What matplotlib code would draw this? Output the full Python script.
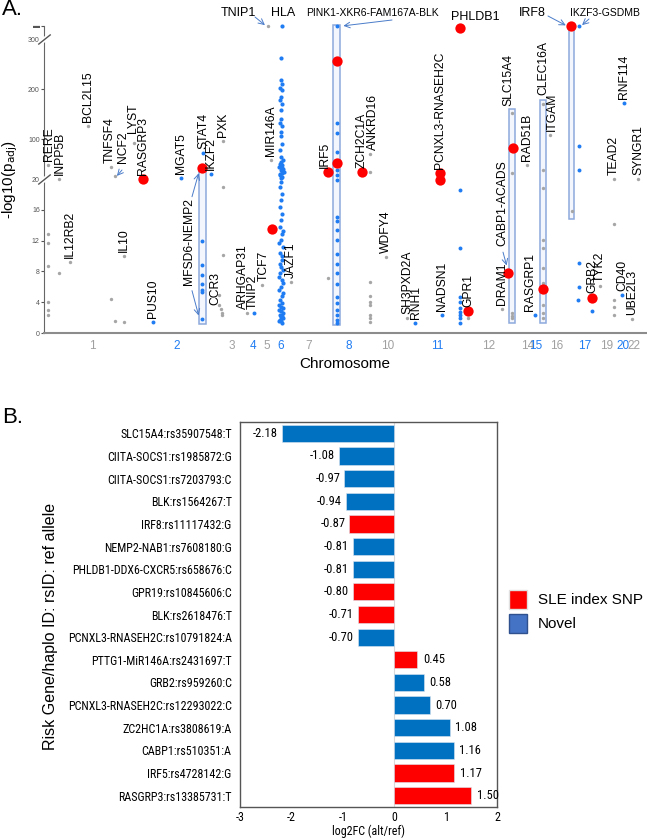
import numpy as np
import matplotlib
matplotlib.use('Agg')
import matplotlib.pyplot as plt
from matplotlib import font_manager, transforms
from matplotlib.font_manager import FontProperties
from matplotlib.textpath import TextToPath
from matplotlib.patches import Rectangle, Patch

plt.rcParams['font.family'] = ['Liberation Sans', 'DejaVu Sans']

GRAY = '#a6a6a6'
BLUE = '#1f7cf2'
RED = '#ff0000'
BOXC = '#8ea9db'

# ---------- panel A data (x = position along genome, y = -log10 padj) ----------
chrom_pos = [92, 177, 232, 253, 267, 281, 309, 349, 388, 437, 489, 528, 536, 557, 585, 607, 623, 634]
chrom_lab = ['1', '2', '3', '4', '5', '6', '7', '8', '10', '11', '12', '14', '15', '16', '17', '19', '20', '22']
chrom_blue = [0, 1, 0, 1, 0, 1, 0, 1, 0, 1, 0, 0, 1, 0, 1, 0, 1, 0]

gray_x = [48, 48, 48, 48, 48, 48, 48, 59, 59, 70, 88, 111, 111, 115, 115, 124, 124, 134,
          223, 223, 223, 219, 219, 222, 222, 221, 247, 262, 268, 271, 291, 328,
          370, 370, 370, 370, 370, 370, 370, 370, 370, 386, 407, 468, 502,
          512, 512, 512, 512, 512, 527,
          543, 543, 543, 543, 543, 543, 543, 543, 543, 543, 550, 572, 600,
          614, 614, 614, 614, 614, 638, 632]
gray_y = [48, 12.9, 11.7, 8.7, 4.0, 3.0, 2.3, 20, 7.8, 9.2, 126, 44, 4.4, 26, 1.6, 10, 1.45, 92,
          96, 19, 10.1, 4.9, 3.6, 2.6, 2.3, 3.1, 2.6, 6.2, 326, 58, 6.6, 7.1,
          70, 34, 6.6, 4.8, 4.0, 3.6, 2.3, 1.9, 1.4, 9.9, 1.9, 1.9, 3.1,
          152, 32, 2.6, 2.2, 1.9, 48,
          170, 38, 18.8, 12.1, 11.0, 8.4, 6.5, 3.6, 2.6, 1.9, 108, 15.8, 6.1,
          20, 14.2, 4.3, 3.4, 2.4, 20.3, 1.8]

blue_x = [153, 181, 203, 211, 202, 202, 202, 202, 202, 202, 202, 254,
          337, 337, 337, 337, 337, 337, 337, 337, 337, 337, 337, 337, 337, 337, 337, 337, 337, 337,
          337, 337, 337,
          415, 442, 460, 460, 460, 460, 460, 460, 460, 460, 460, 535,
          579, 579, 579, 579, 579, 578, 592, 624, 622]
blue_y = [1.4, 22, 72, 30, 11.9, 8.8, 7.5, 6.4, 5.6, 5.3, 1.8, 2.6,
          326, 132, 112, 74, 38, 28, 19.9, 15.1, 14.5, 13.4, 12.1, 10.3, 9.0, 7.8, 6.4, 4.7,
          3.9, 3.0, 2.3, 1.7, 1.3,
          1.3, 2.3, 18.6, 11.0, 4.7, 4.0, 3.2, 2.7, 2.3, 1.9, 1.3, 2.3,
          326, 86, 38, 9.1, 6.0, 4.3, 2.9, 172, 4.9]

# HLA region on chromosome 6
hla_x = [282, 281, 281, 282, 280, 282, 281, 280, 282, 281, 281, 280, 282, 281, 281, 282,
         280, 281, 283, 280, 282, 279, 283, 281, 284, 280, 282, 281, 280, 282, 281, 280,
         282, 281, 280, 282, 281, 283, 280, 282, 281, 280, 282, 281, 283, 280, 282, 281,
         279, 283, 281, 280, 282, 283, 279, 282, 280, 283, 279, 283, 279, 282, 279, 283,
         280, 283, 279, 281, 282, 281, 281, 282, 282, 280, 281]
hla_y = [326, 263, 218, 211, 203, 198, 185, 178, 171, 158, 141, 131, 125, 115, 107, 91,
         78, 65, 58, 51, 48, 45, 41, 38, 35, 31, 25, 19.6, 19.0, 18.1, 17.3, 16.4,
         15.5, 14.7, 13.8, 12.9, 12.1, 11.2, 10.4, 9.5, 8.6, 7.8, 6.9, 6.0, 5.2, 4.3, 3.9, 3.4,
         3.0, 2.6, 2.1, 1.7, 1.3, 13.2, 11.7, 10.0, 9.0, 8.2, 7.3, 6.5, 5.6, 4.8, 3.7, 3.2,
         2.4, 1.9, 1.5, 2.8, 2.2, 1.6, 55, 43, 33, 28, 22]

red_x = [143, 202, 272, 328, 337, 337, 362, 440, 440, 460, 468, 508, 513, 543, 571, 592]
red_y = [20, 42, 13.5, 34, 256, 52, 34, 32, 19.9, 322, 2.9, 7.8, 82, 5.7, 326, 4.6]

# rotated gene labels: text, x, y where the text starts
gene_lab = ['RERE', 'INPP5B', 'IL12RB2', 'BCL2L15', 'TNFSF4', 'NCF2', 'LYST', 'RASGRP3', 'IL10',
            'PUS10', 'MGAT5', 'STAT4', 'IKZF2', 'MFSD6-NEMP2', 'CCR3', 'PXK', 'ARHGAP31', 'TNIP2',
            'TCF7', 'MIR146A', 'JAZF1', 'IRF5', 'ZCH2C1A', 'ANKRD16', 'WDFY4', 'SH3PXD2A', 'RNH1',
            'PCNXL3-RNASEH2C', 'NADSN1', 'GPR1', 'DRAM1', 'CABP1-ACADS', 'SLC15A4', 'RAD51B',
            'RASGRP1', 'CLEC16A', 'ITGAM', 'GRB2', 'TYK2', 'TEAD2', 'RNF114', 'SYNGR1', 'CD40', 'UBE2L3']
gene_x = [49, 60, 70, 88, 110, 123, 133, 143, 124,
          153, 181, 203, 211, 189, 215, 223, 243, 253,
          264, 271, 291, 325, 362, 373, 386, 407, 416,
          440, 442, 468, 502, 502, 508, 527,
          530, 543, 552, 592, 600, 614, 624, 638, 622, 632]
gene_y = [48, 20, 9.2, 126, 44, 44, 104, 20, 10,
          1.4, 22, 72, 30, 5.7, 3.1, 96, 2.6, 2.6,
          6.2, 58, 6.6, 34, 34, 70, 9.9, 1.9, 1.3,
          32, 2.3, 2.9, 3.1, 10.8, 158, 48,
          2.3, 180, 108, 4.6, 6.1, 20, 172, 20.3, 4.9, 1.8]

# boxes around haplotype blocks: x0, x1, y0, y1
box_x0 = [199, 333, 509, 540, 569]
box_x1 = [206, 340, 515, 546, 574]
box_y0 = [1.2, 1.0, 1.3, 1.3, 14.8]
box_y1 = [42, 328, 160, 178, 326]

# ---------- panel B data ----------
snp_lab = ['SLC15A4:rs35907548:T', 'CIITA-SOCS1:rs1985872:G', 'CIITA-SOCS1:rs7203793:C',
           'BLK:rs1564267:T', 'IRF8:rs11117432:G', 'NEMP2-NAB1:rs7608180:G',
           'PHLDB1-DDX6-CXCR5:rs658676:C', 'GPR19:rs10845606:C', 'BLK:rs2618476:T',
           'PCNXL3-RNASEH2C:rs10791824:A', 'PTTG1-MiR146A:rs2431697:T', 'GRB2:rs959260:C',
           'PCNXL3-RNASEH2C:rs12293022:C', 'ZC2HC1A:rs3808619:A', 'CABP1:rs510351:A',
           'IRF5:rs4728142:G', 'RASGRP3:rs13385731:T']
log2fc = [-2.18, -1.08, -0.97, -0.94, -0.87, -0.81, -0.81, -0.80, -0.71, -0.70,
          0.45, 0.58, 0.70, 1.08, 1.16, 1.17, 1.50]
sle_index = [0, 0, 0, 0, 1, 0, 0, 1, 1, 0, 1, 0, 0, 0, 0, 1, 1]


# narrow face for panel B: pick one deterministically, size it to the label width
cands = sorted({(f.name, f.stretch) for f in font_manager.fontManager.ttflist
                if ('Narrow' in f.name or 'Condensed' in f.name
                    or f.stretch in ('condensed', 'semi-condensed'))
                and f.style == 'normal' and f.weight in (400, 'normal', 'regular')})
pref = ['Liberation Sans Narrow', 'Roboto Condensed', 'Open Sans Condensed', 'DejaVu Sans']
NARROW = dict(family='Liberation Sans')
for p in pref:
    hit = [c for c in cands if c[0] == p]
    if hit:
        NARROW = dict(family=hit[0][0], stretch=hit[0][1])
        break
probe = FontProperties(size=10, **NARROW)
w10 = TextToPath().get_text_width_height_descent('PCNXL3-RNASEH2C:rs10791824:A', probe, ismath=False)[0]
NSIZE = 10 * (164 * 72 / 100) / w10
NSIZE = min(max(NSIZE, 6.5), 10)


def fwd(v):
    v = np.asarray(v, dtype=float)
    return np.where(v <= 20, v, 20 + (v - 20) * 0.5 / 7.7)


def inv(u):
    u = np.asarray(u, dtype=float)
    return np.where(u <= 20, u, 20 + (u - 20) * 7.7 / 0.5)


fig = plt.figure(figsize=(6.47, 8.39), dpi=100)
W, H = 647, 839

# ================= panel A =================
ax1 = fig.add_axes([44 / W, 1 - 333 / H, (646 - 44) / W, (333 - 26) / H])
ax1.set_yscale('function', functions=(fwd, inv))
ax1.set_xlim(44, 646)
ax1.set_ylim(0, 326)

for x0, x1, y0, y1 in zip(box_x0, box_x1, box_y0, box_y1):
    ax1.add_patch(Rectangle((x0, y0), x1 - x0, y1 - y0, facecolor='#f3f6fc',
                            edgecolor=BOXC, lw=1.1, zorder=1, clip_on=False))

ax1.scatter(gray_x, gray_y, s=6, color=GRAY, zorder=2, clip_on=False, lw=0)
ax1.scatter(blue_x, blue_y, s=8, color=BLUE, zorder=3, clip_on=False, lw=0)
ax1.scatter(hla_x, hla_y, s=9, color=BLUE, zorder=3, clip_on=False, lw=0)
ax1.scatter(red_x, red_y, s=55, color=RED, zorder=4, clip_on=False, lw=0)

for t, x, y in zip(gene_lab, gene_x, gene_y):
    ax1.annotate(t, (x, y), xytext=(0, 3), textcoords='offset points', rotation=90,
                 ha='center', va='bottom', fontsize=8.7, zorder=5)

arr = dict(arrowstyle='->', color='#4a7cc9', lw=0.7, shrinkA=0, shrinkB=1)
ax1.annotate('', xy=(116, 24), xytext=(122, 38), arrowprops=arr)
ax1.annotate('', xy=(199, 34), xytext=(192, 17.7), arrowprops=arr)
ax1.annotate('', xy=(199, 2.1), xytext=(192, 5.5), arrowprops=arr)
ax1.annotate('', xy=(507, 8.6), xytext=(503, 10.5), arrowprops=arr)

# labels above the panel
top_lab = ['TNIP1', 'HLA', 'PINK1-XKR6-FAM167A-BLK', 'PHLDB1', 'IRF8', 'IKZF3-GSDMB']
top_x = [238, 283, 372, 475, 532, 605]
top_y = [826, 826, 826, 822, 826, 826]
top_fs = [9, 9, 7.5, 9, 9, 7.5]
for t, x, y, fs in zip(top_lab, top_x, top_y, top_fs):
    fig.text(x / W, y / H, t, ha='center', va='center', fontsize=fs)
ax1.annotate('', xy=(266, 326), xytext=(255, 822), textcoords='figure pixels',
             arrowprops=arr, annotation_clip=False)
ax1.annotate('', xy=(342, 326), xytext=(392, 819), textcoords='figure pixels',
             arrowprops=arr, annotation_clip=False)
ax1.annotate('', xy=(567, 326), xytext=(548, 823), textcoords='figure pixels',
             arrowprops=arr, annotation_clip=False)
ax1.annotate('', xy=(581, 326), xytext=(589, 820), textcoords='figure pixels',
             arrowprops=arr, annotation_clip=False)

ax1.spines['top'].set_visible(False)
ax1.spines['right'].set_visible(False)
ax1.spines['left'].set_color('#666666')
ax1.spines['bottom'].set_color('#8c8c8c')
ax1.spines['bottom'].set_linewidth(1.5)

ax1.set_yticks([0, 4, 8, 12, 16, 20, 100, 200, 300, 326])
ax1.set_yticklabels(['0', '4', '8', '12', '16', '20', '100', '200', '300', '\u25ac'])
ax1.tick_params(axis='y', labelsize=5, colors='#555555', length=2, pad=1)
ax1.set_xticks(chrom_pos)
ax1.set_xticklabels(chrom_lab)
ax1.tick_params(axis='x', length=0, labelsize=8.5, pad=5)
for lab, b in zip(ax1.get_xticklabels(), chrom_blue):
    lab.set_color(BLUE if b else '#a0a0a0')
ax1.set_xlabel('Chromosome', fontsize=11, labelpad=4)
ax1.set_ylabel('-log10(p$_{\\mathrm{adj}}$)', fontsize=11)
ax1.yaxis.set_label_coords(-0.04, 0.5)

# axis breaks
blend = transforms.blended_transform_factory(ax1.transAxes, ax1.transData)
for yb in [20, 300]:
    ax1.plot([0], [yb], marker=[(-1, -0.8), (1, 0.8)], markersize=9, mew=3.5,
             mec='white', transform=blend, clip_on=False, zorder=6)
    ax1.plot([0], [yb], marker=[(-1, -0.8), (1, 0.8)], markersize=9, mew=1,
             mec='#555555', transform=blend, clip_on=False, zorder=7)

fig.text(2 / W, 1 - 20 / H, 'A.', fontsize=16, va='bottom')

# ================= panel B =================
ax2 = fig.add_axes([240 / W, 1 - 807 / H, 257 / W, 385 / H])
ypos = np.arange(len(snp_lab))
cols = [RED if s else '#0070c0' for s in sle_index]
ax2.barh(ypos, log2fc, height=0.76, color=cols, edgecolor='#dce6f2', lw=0.4, zorder=2)
ax2.axvline(0, color='#d9d9d9', lw=0.8, zorder=1)
for y, v in zip(ypos, log2fc):
    if v < 0:
        ax2.annotate(f'{v:.2f}', (v, y), xytext=(-3, 0), textcoords='offset points',
                     ha='right', va='center', fontsize=NSIZE + 0.4, **NARROW)
    else:
        ax2.annotate(f'{v:.2f}', (v, y), xytext=(4, 0), textcoords='offset points',
                     ha='left', va='center', fontsize=NSIZE + 0.4, **NARROW)
ax2.set_xlim(-3, 2)
ax2.set_ylim(len(snp_lab) - 0.5, -0.5)
ax2.set_yticks(ypos)
ax2.set_yticklabels(snp_lab, fontsize=NSIZE, **NARROW)
ax2.set_xticks([-3, -2, -1, 0, 1, 2])
ax2.set_xticklabels(['-3', '-2', '-1', '0', '1', '2'], fontsize=NSIZE, **NARROW)
ax2.tick_params(length=0)
ax2.tick_params(axis='y', pad=6)
ax2.tick_params(axis='x', pad=3)
for sp in ax2.spines.values():
    sp.set_color('#555555')
    sp.set_linewidth(1)
ax2.set_xlabel('log2FC (alt/ref)', fontsize=NSIZE, labelpad=0, **NARROW)
ax2.set_ylabel('Risk Gene/haplo ID: rsID: ref allele', fontsize=11.5)
ax2.yaxis.set_label_coords(-0.71, 0.47)

handles = [Patch(facecolor=RED, edgecolor='#e0e0e0', label='SLE index SNP'),
           Patch(facecolor='#4472c4', edgecolor='#2f528f', label='Novel')]
fig.legend(handles=handles, loc='upper left', bbox_to_anchor=(503 / W, 1 - 584 / H),
           frameon=False, fontsize=11, handlelength=1.2, handleheight=1.5,
           handletextpad=0.7, labelspacing=0.35, borderaxespad=0)

fig.text(2 / W, 1 - 428 / H, 'B.', fontsize=16, va='bottom')

fig.savefig('out.png', dpi=100)
